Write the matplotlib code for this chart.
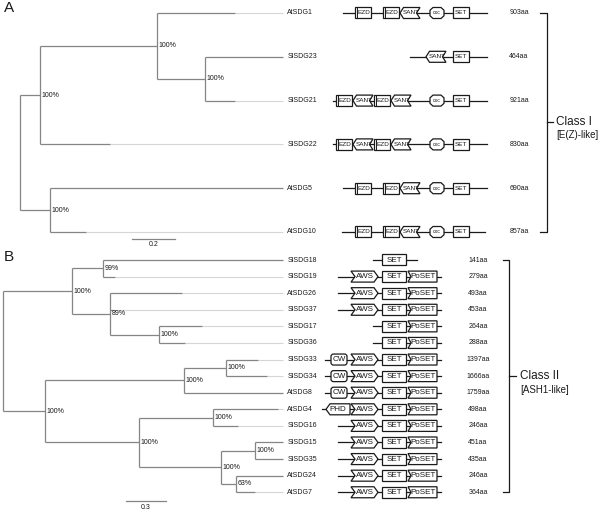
import matplotlib.pyplot as plt
from matplotlib.patches import Polygon, FancyBboxPatch

plt.rcParams['font.family'] = ['Liberation Sans', 'DejaVu Sans']

W, H = 600, 511

# ---------------- data ----------------
# tree nodes: leaf = (name, branch length); clade = ([children], branch length, bootstrap)
tree_a = ([
    ([
        ([("AtSDG1", 0.363),
          ([("SlSDG23", 0.363), ("SlSDG21", 0.14)], 0.223, "100%")], 0.544, "100%"),
        ("SlSDG22", 0.326),
    ], 0.093, "100%"),
    ([("AtSDG5", 1.084), ("AtSDG10", 0.167)], 0.14, "100%"),
], 0.0, None)

tree_b = ([
    ([
        ([("SlSDG18", 1.35), ("SlSDG19", 0.09)], 0.233, "99%"),
        ([("AtSDG26", 0.54), ("SlSDG37", 0.02),
          ([("SlSDG17", 0.32), ("SlSDG36", 0.195)], 0.368, "100%")], 0.285, "89%"),
    ], 0.518, "100%"),
    ([
        ([([("SlSDG33", 0.24), ("SlSDG34", 0.31)], 0.315, "100%"),
          ("AtSDG8", 0.743)], 1.043, "100%"),
        ([([("AtSDG4", 0.49), ("SlSDG16", 0.19)], 0.555, "100%"),
          ([([("SlSDG15", 0.21), ("SlSDG35", 0.21)], 0.255, "100%"),
            ([("AtSDG24", 0.35), ("AtSDG7", 0.14)], 0.113, "63%")], 0.615, "100%")],
         0.705, "100%"),
    ], 0.315, "100%"),
], 0.0, None)

# protein lengths (aa), in leaf order
lengths_a = ["903aa", "464aa", "921aa", "830aa", "690aa", "857aa"]
lengths_b = ["141aa", "279aa", "493aa", "453aa", "264aa", "288aa", "1397aa", "1666aa",
             "1759aa", "498aa", "246aa", "451aa", "435aa", "246aa", "364aa"]

# domain architecture: (backbone start, end), [(domain, start, end)] in diagram units
domains_a = [
    ((43, 187), [("EZD", 55, 71), ("EZD", 83, 99), ("SANT", 100, 120), ("CXC", 130, 144), ("SET", 153, 169)]),
    ((110, 187), [("SANT", 126, 146), ("SET", 153, 169)]),
    ((33, 187), [("EZD", 36, 52), ("SANT", 53, 73), ("EZD", 74, 90), ("SANT", 91, 111), ("CXC", 130, 144), ("SET", 153, 169)]),
    ((33, 187), [("EZD", 36, 52), ("SANT", 53, 73), ("EZD", 74, 90), ("SANT", 91, 111), ("CXC", 130, 144), ("SET", 153, 169)]),
    ((43, 187), [("EZD", 55, 71), ("EZD", 83, 99), ("SANT", 100, 120), ("CXC", 130, 144), ("SET", 153, 169)]),
    ((42, 185), [("EZD", 55, 71), ("EZD", 83, 99), ("SANT", 100, 120), ("CXC", 130, 144), ("SET", 153, 169)]),
]

aws_row = ((38, 141), [("AWS", 51, 78), ("SET", 82, 106), ("PoSET", 108, 137)])
set_row = ((73, 141), [("SET", 82, 106), ("PoSET", 108, 137)])
cw_row = ((25, 141), [("CW", 31, 47), ("AWS", 51, 78), ("SET", 82, 106), ("PoSET", 108, 137)])
domains_b = [
    ((73, 117), [("SET", 82, 106)]),
    aws_row, aws_row, aws_row, set_row, set_row, cw_row, cw_row, cw_row,
    ((22, 141), [("PHD", 26, 50), ("AWS", 51, 78), ("SET", 82, 106), ("PoSET", 108, 137)]),
    aws_row, aws_row, aws_row, aws_row, aws_row,
]

# ---------------- drawing helpers ----------------
fig = plt.figure(figsize=(W / 100, H / 100), dpi=100)

TREE_C = "#858585"
EXT_C = "#d6d6d6"
INK = "#1a1a1a"


def add_ax(box, xlim, first_row, spacing):
    x0, y0, x1, y1 = box
    ax = fig.add_axes([x0 / W, 1 - y1 / H, (x1 - x0) / W, (y1 - y0) / H])
    ax.set_xlim(*xlim)
    ax.set_ylim((y1 - first_row) / spacing, (y0 - first_row) / spacing)
    ax.axis('off')
    return ax


def layout(node, x0, counter, leaves, clades):
    if isinstance(node[0], str):
        name, bl = node
        leaves.append((name, x0, x0 + bl, counter[0]))
        counter[0] += 1
        return leaves[-1][3]
    children, bl, sup = node
    x = x0 + bl
    ys = [layout(c, x, counter, leaves, clades) for c in children]
    y = (ys[0] + ys[-1]) / 2
    clades.append((x0, x, ys[0], ys[-1], y, sup))
    return y


def draw_tree(ax, tree, label_fs):
    leaves, clades = [], []
    layout(tree, 0.0, [0], leaves, clades)
    tip = max(l[2] for l in leaves)
    for name, x0, x1, y in leaves:
        ax.plot([x1, tip], [y, y], color=EXT_C, lw=0.8, solid_capstyle='butt')
        ax.plot([x0, x1], [y, y], color=TREE_C, lw=0.9, solid_capstyle='butt')
        ax.annotate(name, (tip, y), xytext=(3, 0), textcoords='offset points',
                    fontsize=label_fs, va='center', ha='left', color=INK)
    for x0, x1, ya, yb, y, sup in clades:
        ax.plot([x0, x1], [y, y], color=TREE_C, lw=0.9, solid_capstyle='butt')
        ax.plot([x1, x1], [ya, yb], color=TREE_C, lw=0.9, solid_capstyle='butt')
        if sup:
            ax.annotate(sup, (x1, y), xytext=(1.2, 0), textcoords='offset points',
                        fontsize=5, va='center', ha='left', color=INK)
    return tip


def shape(kind, x0, x1, y, h, k):
    # k: px->row scale for y ; h: half height in px
    t, b = y - h * k, y + h * k
    if kind == "SANT":
        return [(x0, y), (x0 + 3.5, t), (x1, t), (x1 - 3.5, y), (x1, b), (x0 + 3.5, b)]
    if kind == "AWS":
        return [(x0, t), (x1 - 4, t), (x1, y), (x1 - 4, b), (x0, b), (x0 + 4, y)]
    if kind == "PHD":
        return [(x0, y), (x0 + 4, t), (x1, t), (x1, b), (x0 + 4, b)]
    if kind == "PoSET":
        return [(x0, t), (x1, t), (x1, b), (x0, b), (x0 + 3, y)]
    if kind == "CXC":
        c = 3
        return [(x0 + c, t), (x1 - c, t), (x1, y - h * k / 2), (x1, y + h * k / 2),
                (x1 - c, b), (x0 + c, b), (x0, y + h * k / 2), (x0, y - h * k / 2)]
    return [(x0, t), (x1, t), (x1, b), (x0, b)]


def draw_domains(ax, rows, spacing, h, fs):
    k = 1.0 / spacing
    for i, ((s, e), doms) in enumerate(rows):
        ax.plot([s, e], [i, i], color=INK, lw=0.9, zorder=1)
        for kind, x0, x1 in doms:
            if kind == "CW":
                ax.add_patch(FancyBboxPatch((x0 + 1.5, i - h * k + 1.5 * k), x1 - x0 - 3,
                                            2 * h * k - 3 * k,
                                            boxstyle="round,pad=1.5,rounding_size=2.5",
                                            mutation_aspect=k, fc='white', ec=INK, lw=0.9, zorder=2))
            else:
                ax.add_patch(Polygon(shape(kind, x0, x1, i, h, k), closed=True,
                                     fc='white', ec=INK, lw=0.9, zorder=2))
            if kind == "EZD":
                ax.plot([x0 + 2, x0 + 2], [i - h * k, i + h * k], color=INK, lw=0.7, zorder=3)
            txt = "cxc" if kind == "CXC" else kind
            cx = (x0 + x1) / 2
            if kind in ("PoSET", "EZD", "SANT"):
                cx += 1
            ax.text(cx, i, txt, fontsize=fs * (0.8 if kind == "CXC" else 1),
                    ha='center', va='center', color=INK, zorder=4)


# ---------------- panel A ----------------
sp_a = 43.8
scale_a = 215.0
tax_a = add_ax((0, 0, 300, 250), (-20 / scale_a, 280 / scale_a), 13, sp_a)
draw_tree(tax_a, tree_a, 5)
sb_y = (239 - 13) / sp_a
tax_a.plot([0.521, 0.721], [sb_y, sb_y], color=TREE_C, lw=0.9)
tax_a.text(0.621, sb_y + 6 / sp_a, "0.2", fontsize=5, ha='center', va='center', color=INK)

dax_a = add_ax((300, 0, 600, 250), (0, 300), 13, sp_a)
draw_domains(dax_a, domains_a, sp_a, 5.5, 4.6)
for i, t in enumerate(lengths_a):
    dax_a.text(219, i, t, fontsize=5, ha='center', va='center', color=INK)
dax_a.plot([240, 247, 247, 240], [0, 0, 5, 5], color=INK, lw=0.9)
dax_a.plot([247, 253], [2.5, 2.5], color=INK, lw=0.9)
dax_a.text(256, 2.5, "Class I", fontsize=8.5, ha='left', va='center', color=INK)
dax_a.text(256, (135 - 13) / sp_a, "[E(Z)-like]", fontsize=7, ha='left', va='center', color=INK)

fig.text(4 / W, 1 - 8 / H, "A", fontsize=11, ha='left', va='center', color=INK)

# ---------------- panel B ----------------
sp_b = 16.59
scale_b = 133.3
tax_b = add_ax((0, 250, 300, 511), (-3 / scale_b, 297 / scale_b), 260, sp_b)
draw_tree(tax_b, tree_b, 5)
sb_y = (500.7 - 260) / sp_b
tax_b.plot([0.923, 1.223], [sb_y, sb_y], color=TREE_C, lw=0.9)
tax_b.text(1.073, sb_y + 6.5 / sp_b, "0.3", fontsize=5, ha='center', va='center', color=INK)

dax_b = add_ax((300, 250, 600, 511), (0, 300), 260, sp_b)
draw_domains(dax_b, domains_b, sp_b, 5.5, 5.8)
for i, t in enumerate(lengths_b):
    dax_b.text(178, i, t, fontsize=5, ha='center', va='center', color=INK)
n_b = len(lengths_b) - 1
dax_b.plot([203, 209, 209, 203], [0, 0, n_b, n_b], color=INK, lw=0.9)
dax_b.plot([209, 216], [n_b / 2, n_b / 2], color=INK, lw=0.9)
dax_b.text(220, n_b / 2, "Class II", fontsize=8.5, ha='left', va='center', color=INK)
dax_b.text(220, (390 - 260) / sp_b, "[ASH1-like]", fontsize=7, ha='left', va='center', color=INK)

fig.text(4 / W, 1 - 257 / H, "B", fontsize=11, ha='left', va='center', color=INK)

fig.savefig("out.png", dpi=100, facecolor='white')
